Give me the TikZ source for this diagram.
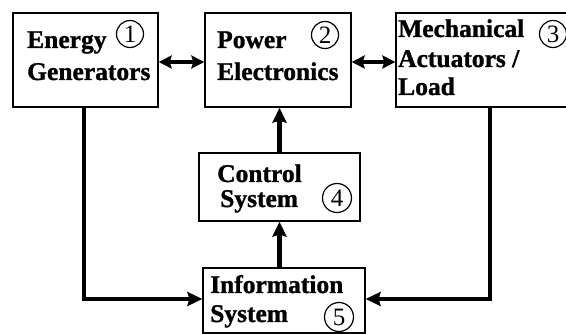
\documentclass[tikz,border=0pt]{standalone}
\usepackage{fontspec}
\setmainfont{Liberation Serif}[BoldFeatures={FakeBold=1.2}]
\usetikzlibrary{arrows.meta}
\begin{document}
\begin{tikzpicture}[x=1pt,y=-1pt,
  block/.style={draw, line width=1.4pt, inner sep=0pt, fill=white},
  lbl/.style={anchor=base west, inner sep=0pt, font=\fontsize{25.5}{30}\selectfont\bfseries},
  num/.style={draw, circle, line width=1.2pt, inner sep=0pt, minimum size=27pt,
    font=\fontsize{25}{25}\selectfont},
  link/.style={line width=4.5pt, -{Stealth[length=15pt,width=14pt,inset=2pt]}},
  biglink/.style={line width=4.5pt, {Stealth[length=13pt,width=13pt,inset=2pt]}-{Stealth[length=13pt,width=13pt,inset=2pt]}}
]
\useasboundingbox (0,0) rectangle (566,334);
\fill[white] (0,0) rectangle (566,334);

% blocks
\node[block, minimum width=145pt, minimum height=94pt] (gen)  at (85.5,60) {};
\node[block, minimum width=146pt, minimum height=94pt] (pe)   at (278,60) {};
\node[block, minimum width=172pt, minimum height=94pt] (mech) at (482,60) {};
\node[block, line width=1.2pt, minimum width=161pt, minimum height=68pt] (ctrl) at (279.5,187) {};
\node[block, line width=1.2pt, minimum width=162pt, minimum height=65pt] (info) at (284,300.5) {};

% block texts
\node[lbl] (gen1) at (27,48) {Energy};
\node[lbl] (gen2) at (27,80) {Generators};
\node[lbl] (pe1) at (217,48) {Power};
\node[lbl] (pe2) at (217,80) {Electronics};
\node[lbl] (mech1) at (398,37) {Mechanical};
\node[lbl] (mech2) at (398,67) {Actuators /};
\node[lbl] (mech3) at (398,95) {Load};
\node[lbl] (ctrl1) at (217,182) {Control};
\node[lbl] (ctrl2) at (220,207) {System};
\node[lbl] (info1) at (210,293) {Information};
\node[lbl] (info2) at (210,322) {System};

% circled numbers
\node[num] (n1) at (130,34) {1};
\node[num] (n2) at (325,35) {2};
\node[num] (n3) at (553,34) {3};
\node[num, minimum size=29pt] (n4) at (337,198) {4};
\node[num, minimum size=29pt] (n5) at (339,317) {5};

% connectors
\draw[biglink] ([yshift=-2pt]gen.east) -- ([yshift=-2pt]pe.west);
\draw[biglink] ([yshift=-2pt]pe.east) -- ([yshift=-2pt]mech.west);
\draw[link] (ctrl.north) -- (ctrl.north |- pe.south);
\draw[link] (ctrl.south |- info.north) -- (ctrl.south);
\draw[link] ([xshift=-1.5pt]gen.south) |- ([yshift=1.5pt]info.west);
\draw[link] ([xshift=8pt]mech.south) |- ([yshift=1.5pt]info.east);
\end{tikzpicture}
\end{document}
